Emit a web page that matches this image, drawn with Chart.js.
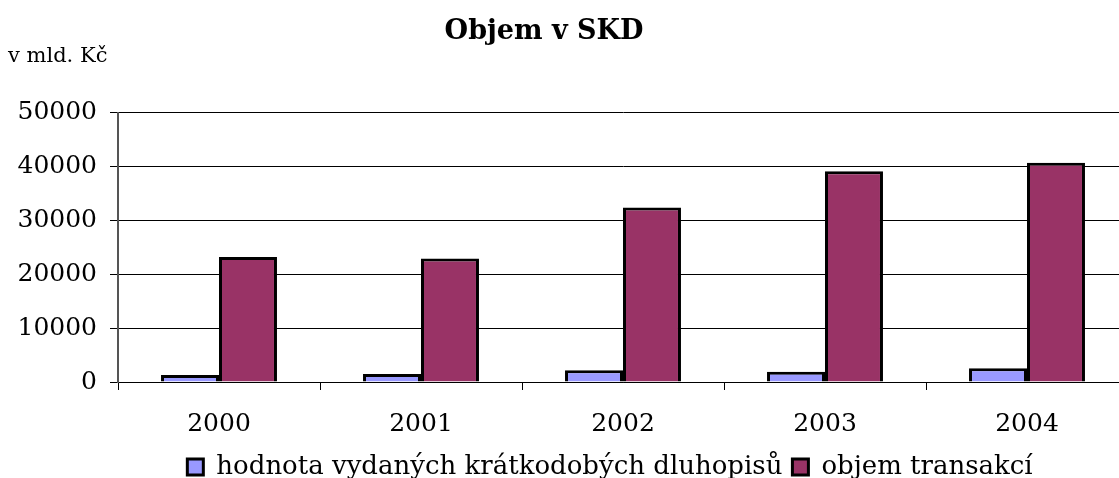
<!DOCTYPE html>
<html>
<head>
<meta charset="utf-8">
<script src="https://cdn.jsdelivr.net/npm/chart.js@4"></script>
<style>
  html, body { margin: 0; padding: 0; background: #fff; overflow: hidden; }
  #wrap { width: 1128px; height: 478px; }
</style>
</head>
<body>
<div id="wrap"><canvas id="myChart" width="1128" height="478"></canvas></div>
<script>
// chart data
const years = ['2000', '2001', '2002', '2003', '2004'];
const bondValues = [1300, 1480, 2200, 1900, 2530];
const tradeValues = [23200, 22900, 32400, 39100, 40700];
const yTicks = [0, 10000, 20000, 30000, 40000, 50000];

const serif = "'DejaVu Serif', 'Liberation Serif', serif";

// nudges the title / subtitle / legend to where they sit in the reference
const shiftBoxes = {
    id: 'shiftBoxes',
    afterLayout(chart) {
        chart.boxes.forEach(b => {
            if (b === chart.legend) {
                b.left += 46; b.right += 46;
                b.top += 12; b.bottom += 12;
            } else if (b.options && b.options.text === 'Objem v SKD') {
                b.left -= 20; b.right -= 20;
                b.top += 1; b.bottom += 1;
            } else if (b.options && b.options.text === 'v mld. Kč') {
                b.left += 8; b.right += 8;
                b.top -= 3; b.bottom -= 3;
            }
        });
    }
};

const ctx = document.getElementById('myChart').getContext('2d');
const myChart = new Chart(ctx, {
    type: 'bar',
    data: {
        labels: years,
        datasets: [{
            label: 'hodnota vydaných krátkodobých dluhopisů',
            data: bondValues,
            backgroundColor: '#9999FF',
            borderColor: '#000000',
            borderWidth: 3
        }, {
            label: 'objem transakcí',
            data: tradeValues,
            backgroundColor: '#993366',
            borderColor: '#000000',
            borderWidth: 3
        }]
    },
    options: {
        responsive: false,
        animation: false,
        layout: { padding: 0 },
        datasets: {
            bar: { categoryPercentage: 0.574, barPercentage: 1 }
        },
        scales: {
            x: {
                afterFit: s => { s.height = 50; },
                grid: {
                    offset: true,
                    drawOnChartArea: false,
                    drawTicks: true,
                    tickLength: 8,
                    color: '#000'
                },
                border: { color: '#000', width: 1 },
                ticks: {
                    color: '#000',
                    padding: 19,
                    font: { family: serif, size: 25 }
                }
            },
            y: {
                min: 0,
                max: 50000,
                afterBuildTicks: s => { s.ticks = yTicks.map(v => ({ value: v })); },
                afterFit: s => { s.width = 118; },
                grid: { color: '#000', lineWidth: 1, tickLength: 8 },
                border: { color: '#555', width: 2 },
                ticks: {
                    color: '#000',
                    padding: 13,
                    font: { family: serif, size: 25 },
                    callback: v => String(v)
                }
            }
        },
        plugins: {
            title: {
                display: true,
                text: 'Objem v SKD',
                color: '#000',
                font: { family: serif, size: 27, weight: 'bold' },
                padding: { top: 15, bottom: 0 }
            },
            subtitle: {
                display: true,
                text: 'v mld. Kč',
                align: 'start',
                color: '#000',
                font: { family: serif, size: 21 },
                padding: { top: 0, bottom: 40 }
            },
            legend: {
                position: 'bottom',
                labels: {
                    color: '#000',
                    boxWidth: 16,
                    boxHeight: 16,
                    padding: 10,
                    font: { family: serif, size: 26 }
                }
            },
            tooltip: { enabled: false }
        }
    },
    plugins: [shiftBoxes]
});
</script>
</body>
</html>
